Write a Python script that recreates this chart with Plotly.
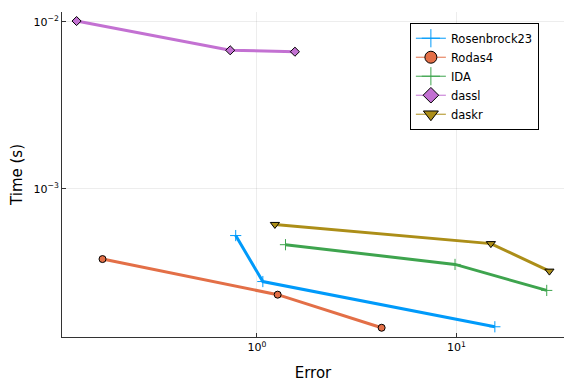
import plotly.graph_objects as go

# Data (Error, Time in seconds)
ros_err = [0.782, 1.07, 15.6]
ros_time = [5.24e-4, 2.78e-4, 1.49e-4]

rodas_err = [0.168, 1.27, 4.22]
rodas_time = [3.79e-4, 2.32e-4, 1.47e-4]

ida_err = [1.39, 9.85, 28.4]
ida_time = [4.62e-4, 3.52e-4, 2.46e-4]

dassl_err = [0.1245, 0.734, 1.55]
dassl_time = [1.009e-2, 6.74e-3, 6.61e-3]

daskr_err = [1.23, 14.9, 29.3]
daskr_time = [6.11e-4, 4.69e-4, 3.21e-4]

x_tickvals = [1, 10]
x_ticktext = ["10<sup>0</sup>", "10<sup>1</sup>"]
y_tickvals = [1e-3, 1e-2]
y_ticktext = ["10<sup>\u22123</sup>", "10<sup>\u22122</sup>"]

series = [
    ("Rosenbrock23", ros_err, ros_time, "#009AFA", "cross-thin", 8, 13),
    ("Rodas4", rodas_err, rodas_time, "#E36F47", "circle", 7, 12),
    ("IDA", ida_err, ida_time, "#3EA44E", "cross-thin", 8, 13),
    ("dassl", dassl_err, dassl_time, "#C371D2", "diamond", 7, 12),
    ("daskr", daskr_err, daskr_time, "#AC8E18", "triangle-down", 8, 13),
]

fig = go.Figure()
for name, xs, ys, color, sym, size, lsize in series:
    thin = sym.endswith("thin")
    fig.add_trace(go.Scatter(
        x=xs, y=ys, name=name, mode="lines+markers", showlegend=False,
        line=dict(color=color, width=3),
        marker=dict(symbol=sym, size=size, color=color,
                    line=dict(color=color if thin else "black", width=1)),
    ))
# legend entries (thin line, larger marker, as in the reference)
for name, xs, ys, color, sym, size, lsize in series:
    thin = sym.endswith("thin")
    fig.add_trace(go.Scatter(
        x=[None], y=[None], name=name, mode="lines+markers",
        line=dict(color=color, width=1),
        marker=dict(symbol=sym, size=lsize, color=color,
                    line=dict(color=color if thin else "black", width=1)),
    ))

axis_common = dict(
    type="log", showline=True, linecolor="#333333", linewidth=1, mirror=False,
    ticks="inside", ticklen=4, tickcolor="#333333", automargin=False,
    showgrid=True, gridcolor="rgba(0,0,0,0.07)", gridwidth=1,
    zeroline=False, tickfont=dict(size=11, color="black"),
    title_font=dict(size=15, color="black"),
)

fig.update_layout(
    width=576, height=384,
    margin=dict(l=54, r=20, t=4, b=55),
    paper_bgcolor="white", plot_bgcolor="white",
    font=dict(family="DejaVu Sans", color="black"),
    xaxis=dict(axis_common, range=[-0.978, 1.540], tickvals=x_tickvals, ticktext=x_ticktext,
               title=dict(text="Error", standoff=14)),
    yaxis=dict(axis_common, range=[-3.888, -1.942], tickvals=y_tickvals, ticktext=y_ticktext,
               title=dict(text="Time (s)", standoff=17)),
    legend=dict(x=0.693, y=0.967, xanchor="left", yanchor="top",
                bordercolor="black", borderwidth=1, bgcolor="white",
                font=dict(size=11.5, color="black"), tracegroupgap=0, itemwidth=30),
    showlegend=True,
)

fig.write_html("out.html")
